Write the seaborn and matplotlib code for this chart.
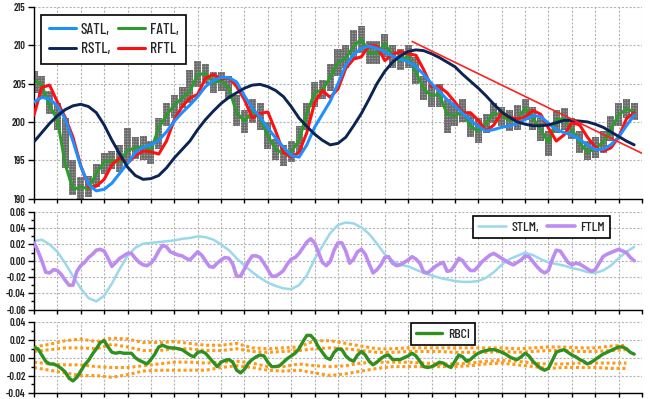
import numpy as np
import matplotlib
matplotlib.use("Agg")
import matplotlib.pyplot as plt
from matplotlib.ticker import MultipleLocator, FormatStrFormatter
import seaborn as sns

# ---- top panel: price bars and the four filters (one value per sample) ----
price_low = [203.8, 203.0, 201.0, 199.0, 194.0, 190.5, 190.0, 190.2, 191.5, 193.2,
             193.8, 193.5, 194.8, 195.2, 195.0, 194.5, 196.5, 199.5, 200.5, 201.8,
             202.5, 204.5, 205.0, 203.8, 204.0, 203.0, 199.5, 198.5, 199.8, 199.0,
             196.5, 195.0, 194.2, 194.8, 196.0, 199.0, 202.0, 203.0, 204.0, 206.0,
             207.0, 208.2, 209.0, 207.5, 207.5, 208.5, 207.0, 206.8, 207.0, 205.0,
             202.8, 202.0, 202.0, 198.5, 199.5, 200.0, 198.0, 197.2, 198.5, 199.8,
             199.5, 198.8, 199.0, 200.2, 199.0, 197.5, 195.5, 198.5, 199.0, 197.8,
             196.0, 195.0, 195.3, 196.0, 197.5, 199.5, 200.5, 200.3]
price_high = [206.6, 206.0, 204.0, 202.5, 200.5, 195.0, 192.8, 193.0, 194.5, 196.0,
              196.2, 197.0, 199.2, 198.0, 198.2, 197.5, 200.5, 202.5, 203.5, 204.5,
              206.8, 208.0, 207.5, 206.5, 206.5, 206.0, 203.5, 201.5, 203.0, 202.5,
              200.0, 197.8, 197.0, 197.5, 199.5, 202.5, 205.2, 205.5, 207.5, 209.5,
              210.0, 212.0, 212.5, 210.5, 210.5, 211.5, 210.0, 209.5, 210.0, 208.5,
              206.0, 204.8, 205.0, 203.0, 202.3, 203.0, 201.0, 200.5, 201.0, 202.5,
              202.0, 201.5, 202.2, 203.0, 202.0, 200.5, 198.8, 201.5, 201.8, 200.5,
              198.8, 197.5, 198.0, 198.8, 200.8, 202.5, 203.0, 202.5]
fatl = [205.5, 204.8, 202.1, 200.3, 194.5, 191.2, 191.5, 191.3, 193.3, 194.8,
        195.0, 194.8, 196.3, 196.6, 196.8, 196.3, 199.2, 200.9, 202.2, 203.1,
        204.0, 206.2, 206.3, 205.1, 205.4, 204.4, 201.2, 200.1, 201.3, 200.6,
        198.2, 196.4, 195.9, 196.1, 197.6, 201.1, 203.8, 204.2, 205.8, 207.8,
        208.3, 209.9, 210.8, 209.0, 208.9, 210.2, 208.6, 208.0, 208.6, 206.5,
        204.3, 203.4, 203.6, 201.0, 200.8, 201.4, 199.4, 198.8, 199.8, 201.2,
        200.8, 200.2, 200.3, 201.8, 200.5, 199.0, 197.3, 200.3, 200.4, 199.0,
        197.3, 196.0, 196.6, 197.3, 199.0, 200.9, 201.7, 201.3]
rftl = [200.9, 204.5, 204.8, 202.6, 200.6, 198.0, 194.3, 191.5, 191.6, 192.5,
        194.4, 195.3, 194.6, 195.6, 196.2, 196.1, 195.8, 197.5, 200.3, 202.0,
        203.1, 203.6, 205.7, 206.2, 205.6, 205.8, 204.6, 202.9, 200.5, 201.1,
        201.3, 198.8, 196.0, 195.4, 196.0, 198.6, 202.5, 204.1, 203.2, 204.3,
        207.0, 208.2, 208.5, 210.0, 209.9, 208.0, 208.8, 209.2, 208.9, 208.7,
        206.8, 204.6, 204.6, 203.8, 202.6, 201.2, 201.2, 200.2, 198.8, 199.6,
        201.2, 200.6, 200.4, 200.6, 201.5, 201.0, 199.2, 197.5, 198.3, 199.9,
        199.6, 198.0, 196.7, 196.2, 196.6, 198.0, 200.4, 201.2]
satl = [202.6, 203.2, 203.0, 202.1, 200.4, 197.5, 194.2, 191.8, 191.0, 191.2,
        192.0, 193.3, 194.6, 196.0, 196.7, 197.0, 197.6, 198.7, 200.1, 201.2,
        202.2, 203.3, 204.6, 205.4, 205.8, 205.8, 205.2, 203.4, 201.8, 200.6,
        199.2, 197.9, 196.7, 195.6, 195.4, 197.0, 199.3, 201.0, 202.7, 205.0,
        207.4, 208.8, 209.6, 209.9, 209.6, 209.1, 208.6, 208.2, 207.9, 207.2,
        206.2, 205.0, 204.0, 202.9, 202.1, 201.1, 200.2, 199.4, 198.8, 199.0,
        199.3, 199.5, 199.8, 200.3, 200.8, 200.7, 199.8, 199.0, 198.6, 198.3,
        197.7, 197.0, 196.4, 196.4, 197.0, 198.0, 199.5, 200.9]
rstl = [197.4, 198.6, 199.8, 200.8, 201.6, 202.1, 202.3, 202.0, 201.2, 199.6,
        197.6, 195.8, 194.1, 193.0, 192.5, 192.6, 193.0, 194.0, 195.3, 196.4,
        197.5, 199.0, 200.3, 201.4, 202.4, 203.2, 203.8, 204.4, 204.8, 204.9,
        204.6, 204.1, 203.3, 202.0, 200.5, 199.4, 198.4, 197.6, 197.0, 197.2,
        198.0, 199.5, 201.1, 203.0, 205.0, 206.6, 207.8, 208.6, 209.2, 209.4,
        209.3, 208.9, 208.4, 207.8, 207.2, 206.2, 205.3, 204.4, 203.4, 202.3,
        201.3, 200.6, 200.0, 199.7, 199.5, 199.5, 199.6, 199.9, 200.2, 200.2,
        200.1, 200.0, 199.7, 199.3, 198.7, 198.1, 197.5, 197.0]
trend_x = [48.5, 78.0]
trend_y = [210.5, 195.9]

# ---- middle panel ----
stlm = [0.024, 0.026, 0.020, 0.011, -0.003, -0.019, -0.034, -0.046, -0.050, -0.043,
        -0.028, -0.010, 0.006, 0.016, 0.021, 0.022, 0.023, 0.024, 0.025, 0.027,
        0.028, 0.030, 0.029, 0.026, 0.020, 0.013, 0.003, -0.006, -0.014, -0.021,
        -0.027, -0.031, -0.034, -0.035, -0.030, -0.018, 0.002, 0.018, 0.034, 0.044,
        0.047, 0.046, 0.041, 0.033, 0.021, 0.008, 0.000, -0.005, -0.007, -0.011,
        -0.015, -0.018, -0.021, -0.023, -0.025, -0.026, -0.026, -0.025, -0.021, -0.014,
        -0.005, 0.002, 0.006, 0.010, 0.007, 0.002, -0.002, -0.004, -0.006, -0.009,
        -0.011, -0.014, -0.015, -0.012, -0.006, 0.003, 0.011, 0.017]
# FTLM and RBCI are read at half-sample steps
ftlm = [0.022, 0.012, 0.000, -0.014, -0.015, -0.011, -0.012, -0.017, -0.024, -0.030,
        -0.030, -0.013, -0.006, -0.002, 0.004, 0.008, 0.013, 0.014, 0.012, 0.003,
        -0.007, -0.002, 0.003, 0.006, 0.009, 0.009, 0.003, -0.002, -0.005, -0.006,
        -0.003, 0.003, 0.012, 0.019, 0.017, 0.011, 0.009, 0.007, 0.006, 0.003,
        0.001, 0.006, 0.011, 0.007, 0.000, -0.007, -0.008, -0.003, 0.001, 0.004,
        0.003, -0.004, -0.019, -0.019, -0.010, -0.001, 0.006, 0.006, 0.004, -0.003,
        -0.011, -0.019, -0.019, -0.016, -0.012, -0.004, 0.002, 0.004, 0.009, 0.016,
        0.023, 0.027, 0.022, 0.010, -0.002, -0.006, -0.001, 0.013, 0.022, 0.022,
        0.012, -0.003, 0.002, 0.011, 0.014, 0.008, -0.004, -0.015, -0.011, -0.005,
        0.004, 0.005, -0.003, -0.006, -0.005, -0.002, 0.001, 0.005, 0.002, -0.003,
        -0.014, -0.015, -0.011, -0.007, -0.004, -0.002, -0.013, -0.012, -0.005, 0.003,
        0.000, -0.007, -0.012, -0.012, -0.007, -0.001, 0.003, 0.007, 0.009, 0.006,
        0.003, 0.000, -0.003, -0.005, -0.002, 0.001, 0.006, 0.005, -0.001, -0.007,
        -0.012, -0.015, -0.012, 0.002, 0.013, 0.012, 0.005, -0.002, -0.005, -0.003,
        -0.004, -0.007, -0.010, -0.013, -0.011, -0.003, 0.005, 0.008, 0.010, 0.012,
        0.014, 0.012, 0.010, 0.004, 0.000]

# ---- bottom panel ----
rbci = [0.011, 0.010, 0.003, -0.004, -0.007, -0.007, -0.009, -0.012, -0.016, -0.023,
        -0.026, -0.022, -0.015, -0.008, -0.003, 0.004, 0.010, 0.017, 0.019, 0.012,
        0.006, 0.005, 0.006, 0.005, 0.005, 0.005, 0.000, -0.003, -0.005, -0.007,
        -0.002, 0.004, 0.012, 0.014, 0.012, 0.011, 0.011, 0.010, 0.009, 0.006,
        0.003, 0.001, 0.006, 0.007, 0.005, 0.000, -0.005, -0.010, -0.005, -0.003,
        -0.002, -0.005, -0.014, -0.017, -0.013, -0.006, -0.002, 0.001, 0.003, 0.002,
        -0.005, -0.010, -0.010, -0.009, -0.005, -0.001, 0.002, 0.005, 0.010, 0.018,
        0.025, 0.025, 0.020, 0.012, 0.006, 0.000, -0.002, 0.006, 0.010, 0.009,
        0.002, -0.002, -0.004, 0.003, 0.007, 0.003, -0.004, -0.008, -0.005, -0.001,
        0.002, 0.003, -0.002, -0.002, -0.002, 0.000, 0.002, 0.005, 0.002, -0.004,
        -0.010, -0.011, -0.010, -0.008, -0.005, -0.006, -0.009, -0.011, -0.004, 0.003,
        0.001, -0.004, -0.002, 0.002, 0.005, 0.007, 0.008, 0.009, 0.009, 0.008,
        0.006, 0.004, 0.001, -0.001, -0.002, 0.001, 0.005, 0.002, -0.004, -0.008,
        -0.012, -0.014, -0.012, -0.003, 0.006, 0.008, 0.009, 0.006, 0.003, 0.001,
        -0.002, -0.004, -0.007, -0.005, -0.002, 0.001, 0.004, 0.006, 0.008, 0.010,
        0.012, 0.012, 0.010, 0.006, 0.004]
# dotted bands, read every second sample
band_up_outer = [0.012, 0.015, 0.019, 0.021, 0.018, 0.022, 0.021, 0.017, 0.017, 0.018,
                 0.016, 0.014, 0.014, 0.016, 0.011, 0.010, 0.011, 0.012, 0.019, 0.019,
                 0.016, 0.013, 0.010, 0.010, 0.011, 0.011, 0.011, 0.011, 0.011, 0.011,
                 0.011, 0.010, 0.011, 0.012, 0.012, 0.011, 0.011, 0.013, 0.014]
band_up_inner = [0.007, 0.009, 0.011, 0.011, 0.010, 0.015, 0.012, 0.008, 0.008, 0.010,
                 0.010, 0.008, 0.008, 0.010, 0.007, 0.006, 0.007, 0.008, 0.010, 0.011,
                 0.010, 0.008, 0.006, 0.006, 0.007, 0.007, 0.007, 0.006, 0.006, 0.006,
                 0.007, 0.006, 0.007, 0.008, 0.008, 0.007, 0.007, 0.008, 0.009]
band_lo_inner = [-0.005, -0.007, -0.008, -0.008, -0.010, -0.011, -0.011, -0.009, -0.007, -0.005,
                 -0.005, -0.006, -0.005, -0.004, -0.006, -0.010, -0.010, -0.007, -0.009, -0.010,
                 -0.009, -0.006, -0.005, -0.005, -0.005, -0.006, -0.007, -0.007, -0.006, -0.004,
                 -0.003, -0.004, -0.006, -0.007, -0.007, -0.006, -0.006, -0.006, -0.006]
band_lo_outer = [-0.011, -0.014, -0.017, -0.020, -0.020, -0.022, -0.019, -0.015, -0.014, -0.014,
                 -0.014, -0.014, -0.011, -0.009, -0.011, -0.014, -0.015, -0.014, -0.017, -0.020,
                 -0.018, -0.015, -0.012, -0.010, -0.010, -0.010, -0.010, -0.010, -0.009, -0.007,
                 -0.006, -0.008, -0.010, -0.012, -0.011, -0.011, -0.011, -0.012, -0.012]

x_main = np.arange(len(fatl))
x_half = np.arange(len(ftlm)) * 0.5
x_band = np.arange(len(band_up_outer)) * 2

sns.set_style("white")
plt.rcParams['font.family'] = ['Barlow Condensed', 'DejaVu Sans']
plt.rcParams['axes.unicode_minus'] = False
plt.rcParams['hatch.linewidth'] = 1.0

fig = plt.figure(figsize=(6.5, 3.99), dpi=100)
ax1 = fig.add_axes([0.0523, 0.5025, 0.9354, 0.480])
ax2 = fig.add_axes([0.0523, 0.2243, 0.9354, 0.2444])
ax3 = fig.add_axes([0.0523, 0.0140, 0.9354, 0.1790])

# top panel
lows = np.array(price_low)
highs = np.array(price_high)
ax1.bar(x_main, highs - lows, bottom=lows, width=0.9, color="#a0a0a0",
        hatch="++++++", edgecolor="#6c6c6c", linewidth=0, zorder=1)
sns.lineplot(x=x_main, y=fatl, ax=ax1, color="#2e9b2e", lw=2.2, label="FATL,", zorder=2)
sns.lineplot(x=x_main, y=rftl, ax=ax1, color="#ff1010", lw=2.2, label="RFTL", zorder=3)
sns.lineplot(x=x_main, y=satl, ax=ax1, color="#1f8fff", lw=2.2, label="SATL,", zorder=4)
sns.lineplot(x=x_main, y=rstl, ax=ax1, color="#0b2454", lw=2.1, label="RSTL,", zorder=5)
ax1.plot(trend_x, trend_y, color="#ff2020", lw=1.2, zorder=6)
ax1.set_ylim(190, 215)
ax1.yaxis.set_major_locator(MultipleLocator(5))
ax1.yaxis.set_major_formatter(FormatStrFormatter('%d'))

# middle panel
sns.lineplot(x=x_main, y=stlm, ax=ax2, color="#9ad8ea", lw=1.8, label="STLM,", zorder=2)
sns.lineplot(x=x_half, y=ftlm, ax=ax2, color="#bd8cf0", lw=2.6, label="FTLM", zorder=3)
ax2.set_ylim(-0.06, 0.06)
ax2.yaxis.set_major_locator(MultipleLocator(0.02))
ax2.yaxis.set_minor_locator(MultipleLocator(0.01))
ax2.yaxis.set_major_formatter(FormatStrFormatter('%.2f'))

# bottom panel
for band in (band_up_outer, band_up_inner, band_lo_inner, band_lo_outer):
    ax3.plot(x_band, band, color="#ff9a1a", lw=2.2, linestyle=(0, (1, 0.9)), zorder=2)
sns.lineplot(x=x_half, y=rbci, ax=ax3, color="#2f8f1f", lw=2.4, label="RBCI", zorder=3)
ax3.set_ylim(-0.04, 0.04)
ax3.yaxis.set_major_locator(MultipleLocator(0.02))
ax3.yaxis.set_minor_locator(MultipleLocator(0.01))
ax3.yaxis.set_major_formatter(FormatStrFormatter('%.2f'))

for ax in (ax1, ax2, ax3):
    ax.set_xlim(0, 78)
    ax.xaxis.set_major_locator(MultipleLocator(3))
    ax.tick_params(axis='x', bottom=True, labelbottom=False, direction='out',
                   length=3, width=1, color='black')
    ax.tick_params(axis='y', left=True, direction='out', length=4, width=1,
                   color='black', labelsize=7.5, pad=2, labelcolor='#202020')
    ax.tick_params(axis='y', which='minor', left=True, direction='out', length=2.5,
                   width=1, color='black')
    ax.grid(True, which='major', color='#b4b4b4', linestyle=(0, (2, 1.5)), linewidth=0.8)
    ax.set_axisbelow(True)
    for s in ('top', 'right'):
        ax.spines[s].set_visible(False)
    for s in ('left', 'bottom'):
        ax.spines[s].set_color('black')
        ax.spines[s].set_linewidth(1.0)
    for lab in ax.get_yticklabels():
        lab.set_fontweight('semibold')
    ax.set_xlabel("")
    ax.set_ylabel("")

# legends
h, l = ax1.get_legend_handles_labels()
order = [l.index(n) for n in ["SATL,", "RSTL,", "FATL,", "RFTL"]]
leg1 = ax1.legend([h[k] for k in order], [l[k] for k in order], ncol=2,
                  loc='upper left', bbox_to_anchor=(0.0115, 0.958), borderaxespad=0,
                  fancybox=False, edgecolor='black', framealpha=1,
                  prop={'size': 11, 'weight': 'medium'},
                  handlelength=1.8, handletextpad=0.3, columnspacing=0.5,
                  labelspacing=0.35, borderpad=0.5)
leg1.get_frame().set_linewidth(1.2)

leg2 = ax2.legend(ncol=2, loc='upper left', bbox_to_anchor=(0.722, 0.959), borderaxespad=0,
                  fancybox=False, edgecolor='black', framealpha=1,
                  prop={'size': 10, 'weight': 'medium'},
                  handlelength=2.0, handletextpad=0.4, columnspacing=0.6, borderpad=0.35)
leg2.get_frame().set_linewidth(1.2)

leg3 = ax3.legend(loc='upper left', bbox_to_anchor=(0.620, 0.986), borderaxespad=0,
                  fancybox=False, edgecolor='black', framealpha=1,
                  prop={'size': 10, 'weight': 'medium'},
                  handlelength=1.9, handletextpad=0.4, borderpad=0.35)
leg3.get_frame().set_linewidth(1.2)

fig.savefig("out.png", dpi=100)
